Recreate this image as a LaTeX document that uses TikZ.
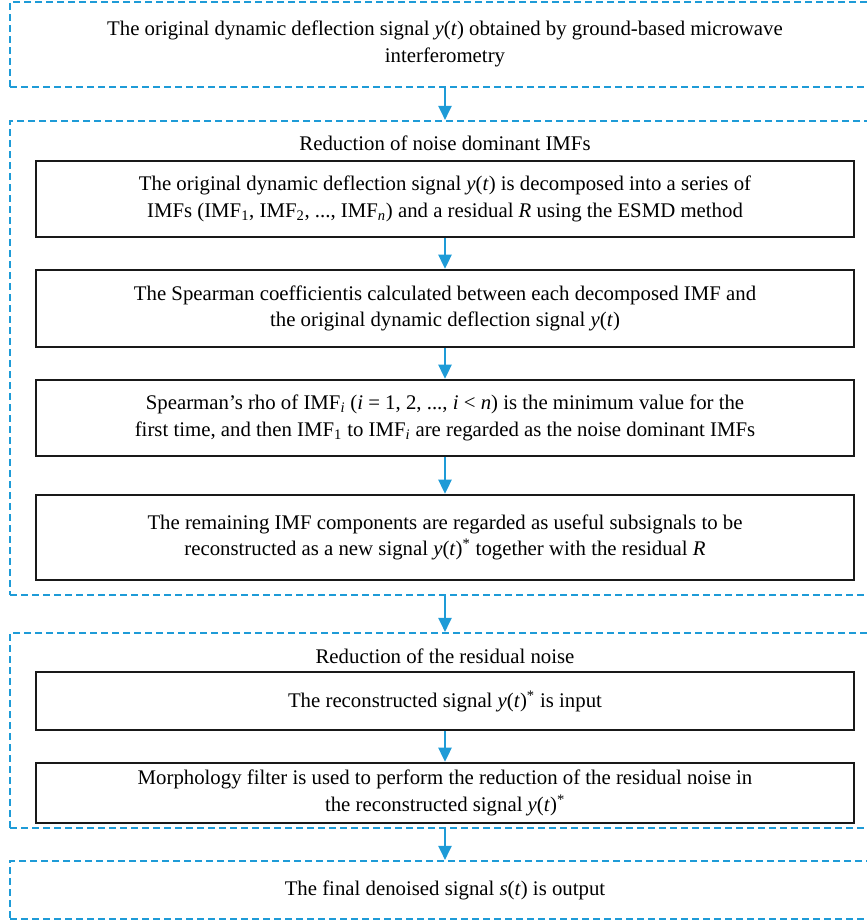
\documentclass[tikz,border=0pt]{standalone}
\usepackage{fontspec}
\setmainfont{Liberation Serif}
\usetikzlibrary{arrows.meta}
\definecolor{dblue}{RGB}{30,155,215}
\tikzset{
  grp/.style={draw=dblue, line width=0.9pt, dash pattern=on 5.25pt off 3pt, minimum width=652.5pt, inner sep=0pt},
  stepbox/.style={draw=black!90, line width=1.1pt, minimum width=613.5pt, align=center, inner sep=0pt, font=\fontsize{15.6}{20}\selectfont},
  ttl/.style={align=center, inner sep=0pt, font=\fontsize{15.6}{20}\selectfont},
  arr/.style={draw=dblue, line width=0.9pt, -{Triangle[length=10.5pt,width=10pt]}, shorten >=0.4pt}
}
\newcommand\yt{\textit{y}(\textit{t})}
\begin{document}
\begin{tikzpicture}[x=0.75pt,y=-0.75pt]
\clip (0,0) rectangle (867,921);
% top box
\node[grp, minimum height=63.75pt, ttl] (top) at (445,44.5) {};
\node[ttl] (toptext) at (445,44) {The original dynamic deflection signal \yt{} obtained by ground-based microwave\\interferometry};
% group 1
\node[grp, minimum height=355.5pt] (g1) at (445,358) {};
\node[ttl] (t1) at (445,143) {Reduction of noise dominant IMFs};
\node[stepbox, minimum height=57pt] (a) at (445,199) {The original dynamic deflection signal \yt{} is decomposed into a series of\\IMFs (IMF\textsubscript{1}, IMF\textsubscript{2}, ..., IMF\textsubscript{\textit{n}}) and a residual \textit{R} using the ESMD method};
\node[stepbox, minimum height=57.75pt] (b) at (445,308.5) {The Spearman coefficientis calculated between each decomposed IMF and\\the original dynamic deflection signal \yt};
\node[stepbox, minimum height=57pt] (c) at (445,418) {Spearman’s rho of IMF\textsubscript{\textit{i}} (\textit{i} = 1, 2, ..., \textit{i} < \textit{n}) is the minimum value for the\\first time, and then IMF\textsubscript{1} to IMF\textsubscript{\textit{i}} are regarded as the noise dominant IMFs};
\node[stepbox, minimum height=63.75pt] (d) at (445,537.5) {The remaining IMF components are regarded as useful subsignals to be\\reconstructed as a new signal \yt\textsuperscript{*} together with the residual \textit{R}};
% group 2
\node[grp, minimum height=146.25pt] (g2) at (445,730.5) {};
\node[ttl] (t2) at (445,656) {Reduction of the residual noise};
\node[stepbox, minimum height=43.5pt] (e) at (445,701) {The reconstructed signal \yt\textsuperscript{*} is input};
\node[stepbox, minimum height=45pt] (f) at (445,793) {Morphology filter is used to perform the reduction of the residual noise in\\the reconstructed signal \yt\textsuperscript{*}};
% final
\node[grp, minimum height=43.5pt, ttl] (fin) at (445,890) {The final denoised signal \textit{s}(\textit{t}) is output};
% arrows
\draw[arr] (top.south) -- (g1.north);
\draw[arr] (a.south) -- (b.north);
\draw[arr] (b.south) -- (c.north);
\draw[arr] (c.south) -- (d.north);
\draw[arr] (g1.south) -- (g2.north);
\draw[arr] (e.south) -- (f.north);
\draw[arr] (g2.south) -- (fin.north);
\end{tikzpicture}
\end{document}
